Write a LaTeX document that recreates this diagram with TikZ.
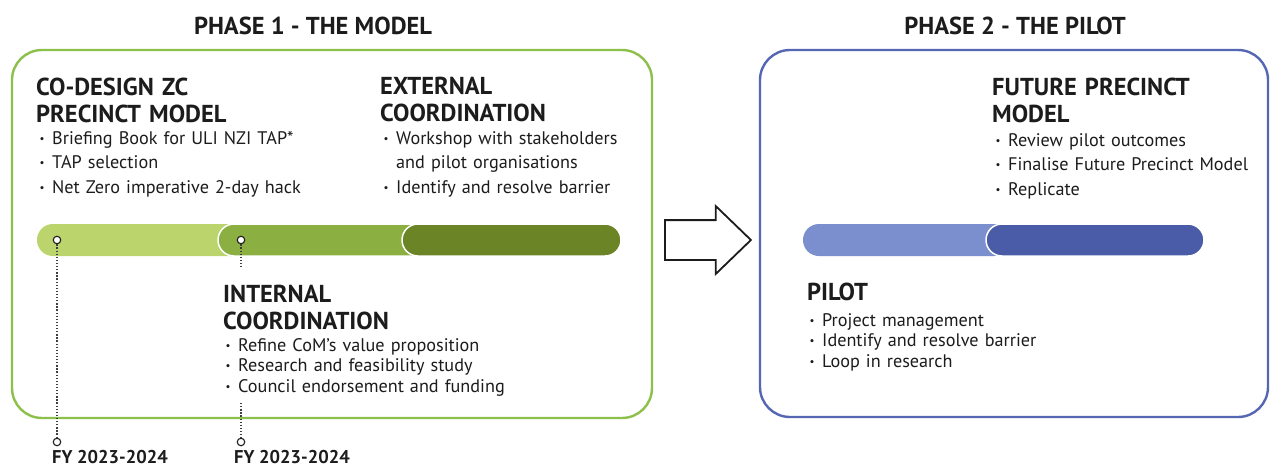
\documentclass[tikz,border=0pt]{standalone}
\usepackage{fontspec}
\setmainfont{PT Sans}
\usetikzlibrary{shapes.arrows}

\definecolor{ink}{HTML}{1C1C1C}
\definecolor{greenline}{HTML}{8DBF4B}
\definecolor{greenA}{HTML}{BBD46B}
\definecolor{greenB}{HTML}{8CAF42}
\definecolor{greenC}{HTML}{6B8426}
\definecolor{blueline}{HTML}{5567B3}
\definecolor{blueA}{HTML}{7B8FCF}
\definecolor{blueB}{HTML}{4A5CA8}

% small bullet followed by a fixed indent
\newcommand\bdot{\makebox[14pt][l]{\hspace{1.5pt}\raisebox{2pt}{\scalebox{0.6}{•}}}}
\newcommand\bgap{\hspace*{14pt}}
\newcommand\nohyph{\hyphenpenalty=10000\relax}

\begin{document}
\begin{tikzpicture}[x=1pt,y=-1pt,
  phasetitle/.style={font=\fontsize{24.5}{28}\selectfont\bfseries, text=ink, inner sep=0, anchor=base},
  heading/.style={font=\fontsize{24.5}{27.5}\selectfont\bfseries, text=ink, align=left, text width=260pt, inner sep=0, anchor=base west},
  items/.style={font=\fontsize{18.2}{24.5}\selectfont\nohyph, text=ink, align=left, text width=360pt, inner sep=0, anchor=base west},
  itemstight/.style={items, font=\fontsize{18.2}{20.8}\selectfont\nohyph},
  phasebox/.style={line width=2.4pt, rounded corners=30pt, inner sep=0, fill=white},
  ring/.style={circle, draw=ink, fill=white, line width=1.1pt, minimum size=7.5pt, inner sep=0},
  dotline/.style={draw=ink!85, line width=1.3pt, dash pattern=on 1.3pt off 1.8pt},
  fylabel/.style={font=\fontsize{18.5}{22}\selectfont\bfseries, text=ink, inner sep=0, anchor=base west},
  bar/.style={rounded corners=16pt, draw=white, line width=1.5pt}
]
\useasboundingbox (0,0) rectangle (1275,472);

% phase titles
\node[phasetitle] (t1) at (313,34) {PHASE 1 - THE MODEL};
\node[phasetitle] (t2) at (1015,34) {PHASE 2 - THE PILOT};

% phase frames
\node[phasebox, draw=greenline, minimum width=640pt, minimum height=368pt] (phase1) at (332,234) {};
\node[phasebox, draw=blueline, minimum width=508pt, minimum height=367pt] (phase2) at (1014,233.5) {};

% transition arrow
\node[single arrow, draw=ink, fill=white, line width=1.8pt, minimum height=86pt,
      inner xsep=0pt, inner ysep=19pt, anchor=tail,
      single arrow head extend=14pt, single arrow tip angle=88] (go) at (664,240) {};

% phase 1 timeline bar
\fill[greenA, rounded corners=16pt] (37,224) rectangle (250,256);
\path[bar, fill=greenB] (218,224) rectangle (430,256);
\path[bar, fill=greenC] (402,224) rectangle (621,256);

% phase 2 timeline bar
\fill[blueA, rounded corners=16pt] (803,224) rectangle (1010,256);
\path[bar, fill=blueB] (986,224) rectangle (1204,256);

% milestones
\node[ring] (c1) at (57,240) {};
\node[ring] (c2) at (241,240) {};
\node[ring] (f1) at (57,442) {};
\node[ring] (f2) at (241,442) {};
\coordinate (c2end) at (241,268);
\coordinate (f2start) at (241,403);
\draw[dotline] (c1) -- (f1);
\draw[dotline] (c2) -- (c2end);
\draw[dotline] (f2start) -- (f2);

\node[fylabel] (fy1) at (52,463) {FY 2023-2024};
\node[fylabel] (fy2) at (234,463) {FY 2023-2024};

% phase 1 texts
\node[heading] (codesign) at (36,95) {CO-DESIGN ZC\\PRECINCT MODEL};
\node[items] (codesignlist) at (38,144) {\bdot Briefing Book for ULI NZI TAP*\\\bdot TAP selection\\\bdot Net Zero imperative 2-day hack};

\node[heading] (external) at (380,94) {EXTERNAL\\COORDINATION};
\node[items] (externallist) at (382,144) {\bdot Workshop with stakeholders\\\bgap and pilot organisations\\\bdot Identify and resolve barrier};

\node[heading] (internal) at (223,302) {INTERNAL\\COORDINATION};
\node[itemstight] (internallist) at (224,351) {\bdot Refine CoM's value proposition\\\bdot Research and feasibility study\\\bdot Council endorsement and funding};

% phase 2 texts
\node[heading] (future) at (992,95) {FUTURE PRECINCT\\MODEL};
\node[items] (futurelist) at (994,146) {\bdot Review pilot outcomes\\\bdot Finalise Future Precinct Model\\\bdot Replicate};

\node[heading] (pilot) at (807,300) {PILOT};
\node[itemstight] (pilotlist) at (808,326) {\bdot Project management\\\bdot Identify and resolve barrier\\\bdot Loop in research};
\end{tikzpicture}
\end{document}
